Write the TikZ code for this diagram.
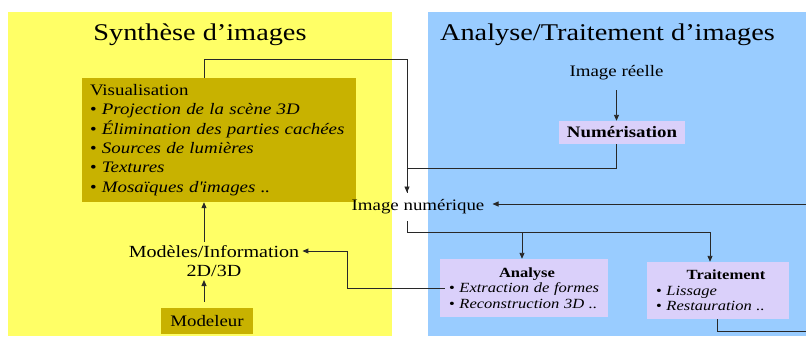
\documentclass[tikz,border=0pt]{standalone}
\usepackage{fontspec}
\setmainfont[FakeStretch=1.18]{Liberation Serif}
\usetikzlibrary{arrows.meta,positioning}
\definecolor{synthyellow}{RGB}{255,255,102}
\definecolor{analblue}{RGB}{153,204,255}
\definecolor{boxgold}{RGB}{200,178,0}
\definecolor{boxlilac}{RGB}{218,208,250}
\definecolor{wiregray}{RGB}{40,40,40}
\tikzset{
  wire/.style={draw=wiregray,line width=0.9pt},
  arr/.style={wire,-{Triangle[length=6pt,width=5pt]}},
  goldbox/.style={fill=boxgold,inner sep=0pt},
  lilacbox/.style={fill=boxlilac,inner sep=0pt},
  bodytext/.style={font=\fontsize{16}{19.3}\selectfont},
  smalltext/.style={font=\fontsize{14}{15.5}\selectfont},
  headtext/.style={font=\fontsize{24}{28}\selectfont,anchor=base}
}

\begin{document}
\begin{tikzpicture}[x=1pt,y=-1pt]
                \useasboundingbox (0,0) rectangle (806,338);
                \fill[white] (0,0) rectangle (806,338);
                \fill[synthyellow] (8,12) rectangle (392,336);
                \fill[analblue] (428,12) rectangle (812,336);

                \node[headtext] (tsyn) at (200,40) {Synthèse d’images};
                \node[headtext] (tana) at (607.5,40) {Analyse/Traitement d’images};

                \node[goldbox,bodytext,text width=258pt,inner xsep=8pt,minimum height=124pt,align=left] (vis) at (219,140)
                  {\mbox{Visualisation}\\
                   \mbox{\textbullet\ \textit{Projection de la scène 3D}}\\
                   \mbox{\textbullet\ \textit{Élimination des parties cachées}}\\
                   \mbox{\textbullet\ \textit{Sources de lumières}}\\
                   \mbox{\textbullet\ \textit{Textures}}\\
                   \mbox{\textbullet\ \textit{Mosaïques d\textquotesingle images ..}}};
                \node[font=\fontsize{17}{19.5}\selectfont,align=center,inner sep=3pt] (models) at (214,261) {Modèles/Information\\2D/3D};
                \node[goldbox,bodytext,minimum width=92pt,minimum height=26pt] (modeleur) at (207,321) {Modeleur};

                \node[bodytext,inner ysep=10pt] (reel) at (616.5,73) {Image réelle};
                \node[lilacbox,bodytext,minimum width=126pt,minimum height=23pt] (num) at (622,132.5) {\textbf{Numérisation}};
                \node[bodytext,inner xsep=8pt,inner ysep=7pt] (imgnum) at (418,207) {Image numérique};

                \node[lilacbox,smalltext,text width=150pt,inner xsep=9pt,minimum height=58pt,align=left] (ana) at (524,288)
                  {{\centering\hspace*{6pt}\textbf{Analyse}\par}
                   \mbox{\textbullet\ \textit{Extraction de formes}}\\
                   \mbox{\textbullet\ \textit{Reconstruction 3D ..}}};
                \node[lilacbox,smalltext,text width=124pt,inner xsep=9pt,minimum height=57pt,align=left] (trait) at (718,290.5)
                  {{\centering\hspace*{16pt}\textbf{Traitement}\par}
                   \mbox{\textbullet\ \textit{Lissage}}\\
                   \mbox{\textbullet\ \textit{Restauration ..}}};

                \draw[arr] ([xshift=-15pt]vis.north) -- ++(0,-18) -| ([xshift=-11pt]imgnum.north);
                \draw[arr] (reel.south) -- (reel.south |- num.north);
                \draw[wire] ([xshift=-6pt]num.south) -- ++(0,24) -| ([xshift=-11pt]imgnum.north);

                \draw[arr] ([xshift=-11pt]imgnum.south) -- ++(0,11) -| ([xshift=-2pt]ana.north);
                \draw[arr] ([xshift=-11pt]imgnum.south) -- ++(0,11) -| ([xshift=-8pt]trait.north);
                \draw[arr] ([xshift=-1pt]trait.south) -- ++(0,12) -- ++(95,0) |- ([yshift=3pt]imgnum.east);

                \draw[arr] ([xshift=5pt]ana.west) -- ++(-97,0) |- ([yshift=10pt]models.east);
                \draw[arr] ([xshift=-10pt]models.north) -- ([xshift=-10pt]models.north |- vis.south);
                \draw[arr,shorten <=6pt] ([xshift=-3pt]modeleur.north) -- ([xshift=-3pt]modeleur.north |- models.south);

            \end{tikzpicture}
\end{document}
